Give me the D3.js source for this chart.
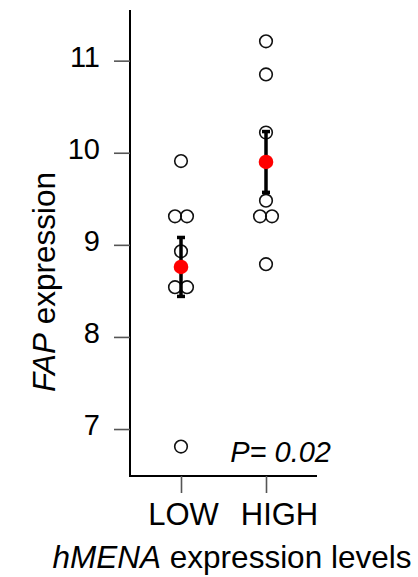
<!DOCTYPE html>
<html>
<head>
<meta charset="utf-8">
<script src="https://cdn.jsdelivr.net/npm/d3@7"></script>
<style>
  html, body { margin: 0; padding: 0; background: #fff; }
  svg { display: block; font-family: "Liberation Sans", Arial, sans-serif; }
</style>
</head>
<body>
<svg id="chart" width="418" height="577"></svg>
<script>
// ---- data ----
const categories = ["LOW", "HIGH"];
const lowValues  = [9.91, 9.31, 9.31, 8.93, 8.54, 8.54, 6.81];
const highValues = [11.21, 10.85, 10.22, 9.48, 9.31, 9.31, 8.79];
const means      = [8.76, 9.90];
const sems       = [0.32, 0.33];
const yTicks     = [7, 8, 9, 10, 11];
const pLabel     = "P= 0.02";

const svg = d3.select("#chart");

const x = d3.scalePoint().domain(categories).range([130, 317]).padding(0.6);
const y = d3.scaleLinear().domain([6.49, 11.55]).range([476, 10]);

// y axis
const yAxis = d3.axisLeft(y).tickValues(yTicks).tickSize(16).tickPadding(14).tickFormat(d3.format("d"));
const gy = svg.append("g").attr("transform", "translate(130,0)").call(yAxis);
gy.select(".domain").attr("stroke", "#000").attr("stroke-width", 2).attr("d", `M0,${y.range()[1]}V${y.range()[0]}`);
gy.selectAll(".tick line").attr("stroke", "#555").attr("stroke-width", 1.6);
gy.selectAll(".tick text").attr("font-size", 29).attr("fill", "#000").attr("dy", "0.2em");

// x axis
const xAxis = d3.axisBottom(x).tickSize(17).tickPadding(10);
const gx = svg.append("g").attr("transform", "translate(0,476)").call(xAxis);
gx.select(".domain").attr("stroke", "#000").attr("stroke-width", 2).attr("d", `M129,0H317`);
gx.selectAll(".tick line").attr("stroke", "#555").attr("stroke-width", 1.6);
gx.selectAll(".tick text").attr("font-size", 31).attr("fill", "#000")
  .attr("dy", "0.72em")
  .attr("dx", d => d === "HIGH" ? 13 : 2);

// points with side-by-side offset for duplicate values
function layout(vals, cat) {
  const counts = d3.rollup(vals, v => v.length, d => d);
  const seen = new Map();
  return vals.map(v => {
    const n = counts.get(v);
    const i = seen.get(v) || 0;
    seen.set(v, i + 1);
    const off = n > 1 ? (i - (n - 1) / 2) * 12 : 0;
    return { cat, v, off };
  });
}
const pts = layout(lowValues, "LOW").concat(layout(highValues, "HIGH"));

svg.append("g").selectAll("circle").data(pts).join("circle")
  .attr("cx", d => x(d.cat) + d.off)
  .attr("cy", d => y(d.v))
  .attr("r", 6.3)
  .attr("fill", "#fff")
  .attr("fill-opacity", 0)
  .attr("stroke", "#111")
  .attr("stroke-width", 1.6);

// error bars
const eb = svg.append("g");
categories.forEach((c, i) => {
  const cx = x(c), lo = y(means[i] - sems[i]), hi = y(means[i] + sems[i]);
  eb.append("line").attr("x1", cx).attr("x2", cx).attr("y1", hi).attr("y2", lo)
    .attr("stroke", "#000").attr("stroke-width", 3.5);
  [hi, lo].forEach(yy => eb.append("line")
    .attr("x1", cx - 4).attr("x2", cx + 4).attr("y1", yy).attr("y2", yy)
    .attr("stroke", "#000").attr("stroke-width", 3.5));
});

// means
svg.append("g").selectAll("circle").data(categories).join("circle")
  .attr("cx", d => x(d))
  .attr("cy", (d, i) => y(means[i]))
  .attr("r", 7.3)
  .attr("fill", "#ff0000");

// P value
svg.append("text").attr("x", 331).attr("y", 462).attr("text-anchor", "end")
  .attr("font-size", 29).attr("font-style", "italic").text(pLabel);

// axis titles
const yt = svg.append("text").attr("transform", "translate(55,282) rotate(-90)")
  .attr("text-anchor", "middle").attr("font-size", 31.5);
yt.append("tspan").attr("font-style", "italic").text("FAP");
yt.append("tspan").text(" expression");

const xt = svg.append("text").attr("x", 232).attr("y", 568)
  .attr("text-anchor", "middle").attr("font-size", 31.5);
xt.append("tspan").attr("font-style", "italic").text("hMENA");
xt.append("tspan").text(" expression levels");
</script>
</body>
</html>
